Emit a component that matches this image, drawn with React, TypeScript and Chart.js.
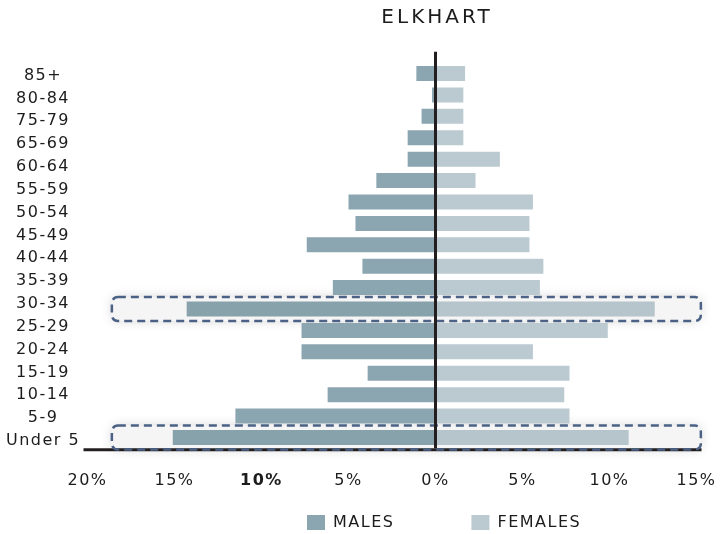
import React, { useEffect, useRef } from 'react';
import { Chart, registerables } from 'chart.js';

Chart.register(...registerables);

// Age groups of the bars (top to bottom)
const AGE_GROUPS = ['85+', '80-84', '75-79', '70-74', '65-69', '60-64', '55-59', '50-54', '45-49', '40-44', '35-39', '30-34', '25-29', '20-24', '15-19', '10-14', '5-9', 'Under 5'];
// Tick labels as printed on the axis of the reference
const AXIS_LABELS = ['85+', '80-84', '75-79', '65-69', '60-64', '55-59', '50-54', '45-49', '40-44', '35-39', '30-34', '25-29', '20-24', '15-19', '10-14', '5-9', 'Under 5'];
// Percent of population (males negative)
const MALES = [-1.1, -0.2, -0.8, -1.6, -1.6, -3.4, -5.0, -4.6, -7.4, -4.2, -5.9, -14.3, -7.7, -7.7, -3.9, -6.2, -11.5, -15.1];
const FEMALES = [1.7, 1.6, 1.6, 1.6, 3.7, 2.3, 5.6, 5.4, 5.4, 6.2, 6.0, 12.6, 9.9, 5.6, 7.7, 7.4, 7.7, 11.1];
const X_MIN = -20;
const X_MAX = 15;
const X_STEP = 5;
const BOLD_TICK = -10;
const HIGHLIGHT_ROWS = ['30-34', 'Under 5'];
const HIGHLIGHT_RANGE = [-18.6, 15.25];
const TITLE = 'ELKHART';

const MALE_COLOR = '#8ca6b1';
const FEMALE_COLOR = '#bbc9d0';
const TEXT_COLOR = '#1c1c1c';
const FONT_FAMILY = '"DejaVu Sans", sans-serif';

export default function App() {
  const ref = useRef<HTMLCanvasElement>(null);

  useEffect(() => {
    const canvas = ref.current;
    if (!canvas) return;

    const rowRect = (chart: any, label: string) => {
      const y = chart.scales.y;
      const x = chart.scales.x;
      const idx = AGE_GROUPS.indexOf(label);
      const cy = y.getPixelForValue(idx);
      const left = x.getPixelForValue(HIGHLIGHT_RANGE[0]);
      const right = x.getPixelForValue(HIGHLIGHT_RANGE[1]);
      return { left, right, top: cy - 12, bottom: cy + 12 };
    };

    const decor = {
      id: 'decor',
      afterLayout(chart: any) {
        const lg = chart.legend;
        if (lg) {
          const pad = lg.options.labels.padding;
          const w = lg.width;
          lg.left = 307 - pad;
          lg.right = lg.left + w;
          lg.top = 514.5 - pad;
          lg.bottom = chart.height;
          lg.height = lg.bottom - lg.top;
        }
        // the printed age labels run on a slightly longer span than the bars
        const s = chart.scales.y2;
        if (s) {
          s.top += 1.3;
          s.bottom += 4.2;
          s.height = s.bottom - s.top;
          s.configure();
        }
      },
      beforeDraw(chart: any) {
        chart.ctx.letterSpacing = '1.5px';
      },
      beforeDatasetsDraw(chart: any) {
        const ctx = chart.ctx;
        ctx.save();
        for (const lab of HIGHLIGHT_ROWS) {
          const r = rowRect(chart, lab);
          ctx.shadowColor = 'rgba(0,0,0,0.16)';
          ctx.shadowBlur = 12;
          ctx.fillStyle = '#fbfbfb';
          ctx.beginPath();
          ctx.roundRect(r.left, r.top, r.right - r.left, r.bottom - r.top, 6);
          ctx.fill();
        }
        ctx.restore();
      },
      afterDatasetsDraw(chart: any) {
        const ctx = chart.ctx;
        const area = chart.chartArea;
        const x0 = chart.scales.x.getPixelForValue(0);
        ctx.save();
        // bottom axis line
        ctx.strokeStyle = '#231f20';
        ctx.lineWidth = 3;
        ctx.beginPath();
        ctx.moveTo(area.left - 4, area.bottom + 1.5);
        ctx.lineTo(area.right + 5, area.bottom + 1.5);
        ctx.stroke();
        // highlight overlays and dashed outlines
        for (const lab of HIGHLIGHT_ROWS) {
          const r = rowRect(chart, lab);
          ctx.fillStyle = 'rgba(0,0,0,0.025)';
          ctx.beginPath();
          ctx.roundRect(r.left, r.top, r.right - r.left, r.bottom - r.top, 6);
          ctx.fill();
          ctx.setLineDash([8, 5]);
          ctx.strokeStyle = '#4b6185';
          ctx.lineWidth = 2.5;
          ctx.stroke();
        }
        ctx.setLineDash([]);
        // zero line
        ctx.strokeStyle = '#231f20';
        ctx.lineWidth = 3;
        ctx.beginPath();
        ctx.moveTo(x0, area.top - 11);
        ctx.lineTo(x0, area.bottom);
        ctx.stroke();
        // title
        ctx.letterSpacing = '3px';
        ctx.fillStyle = TEXT_COLOR;
        ctx.font = '20px ' + FONT_FAMILY;
        ctx.textAlign = 'center';
        ctx.textBaseline = 'middle';
        ctx.fillText(TITLE, x0 + 1.5, 18);
        ctx.restore();
      },
      afterDraw(chart: any) {
        chart.ctx.letterSpacing = '0px';
      },
    };

    const chart = new Chart(canvas, {
      type: 'bar',
      data: {
        labels: AGE_GROUPS,
        datasets: [
          {
            label: 'MALES',
            data: MALES,
            backgroundColor: MALE_COLOR,
            borderWidth: 0,
            grouped: false,
            barPercentage: 0.7,
            categoryPercentage: 1,
            yAxisID: 'y',
          },
          {
            label: 'FEMALES',
            data: FEMALES,
            backgroundColor: FEMALE_COLOR,
            borderWidth: 0,
            grouped: false,
            barPercentage: 0.7,
            categoryPercentage: 1,
            yAxisID: 'y',
          },
        ],
      },
      options: {
        indexAxis: 'y',
        responsive: false,
        animation: false,
        layout: { padding: { top: 62.8, right: 24.5, left: 0, bottom: 0 } },
        plugins: {
          title: { display: false },
          tooltip: { enabled: false },
          legend: {
            position: 'bottom',
            align: 'start',
            maxHeight: 40,
            labels: {
              boxWidth: 18,
              boxHeight: 15,
              padding: 77,
              color: TEXT_COLOR,
              font: { family: FONT_FAMILY, size: 16 },
            },
          },
        },
        scales: {
          x: {
            type: 'linear',
            min: X_MIN,
            max: X_MAX,
            grid: { display: false, drawTicks: false },
            border: { display: false },
            ticks: {
              stepSize: X_STEP,
              padding: 23,
              autoSkip: false,
              maxRotation: 0,
              color: TEXT_COLOR,
              font: (c: any) => ({
                family: FONT_FAMILY,
                size: 16,
                weight: c.tick && c.tick.value === BOLD_TICK ? 'bold' : 'normal',
              }),
              callback: (v: any) => Math.abs(Number(v)) + '%',
            },
            afterFit: (s: any) => {
              s.height = 45.8;
              s.paddingLeft = 0;
              s.paddingRight = 0;
            },
          },
          y: {
            type: 'category',
            display: false,
            offset: true,
          },
          y2: {
            type: 'category',
            labels: AXIS_LABELS,
            position: 'left',
            offset: true,
            grid: { display: false, drawTicks: false },
            border: { display: false },
            ticks: {
              crossAlign: 'center',
              padding: 12.6,
              autoSkip: false,
              color: TEXT_COLOR,
              font: { family: FONT_FAMILY, size: 16 },
            },
            afterFit: (s: any) => {
              s.width = 87.5;
            },
          },
        },
      } as any,
      plugins: [decor],
    });

    return () => {
      chart.destroy();
    };
  }, []);

  return (
    <div style={{ position: 'absolute', left: 0, top: 0, width: 721, height: 534 }}>
      <canvas ref={ref} width={721} height={534} style={{ display: 'block' }} />
    </div>
  );
}
